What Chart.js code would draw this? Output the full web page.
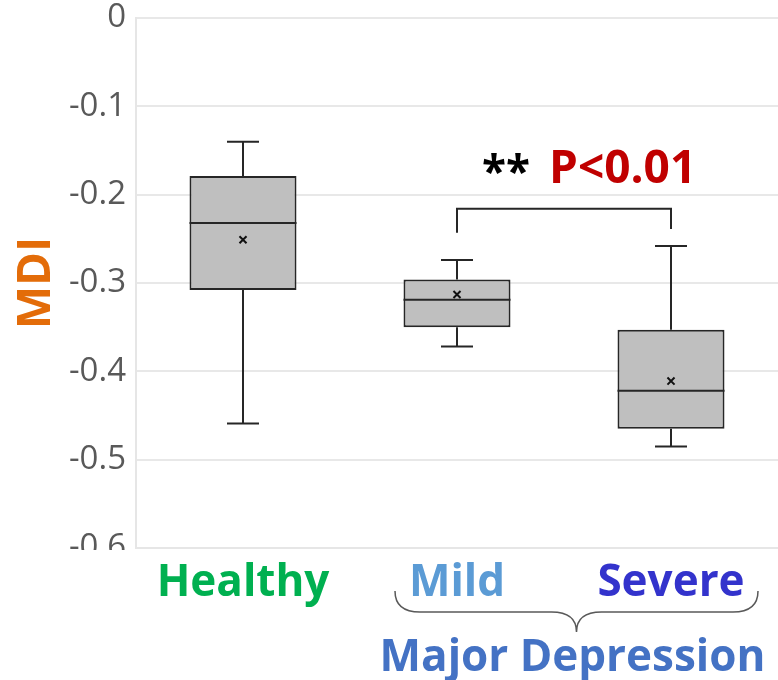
<!DOCTYPE html>
<html>
<head>
<meta charset="utf-8">
<script src="https://cdn.jsdelivr.net/npm/chart.js@4/dist/chart.umd.min.js"></script>
<style>
	body { margin: 0; background: #fff; }
	canvas { display: block; }
</style>
</head>
<body>
<canvas id="chart" width="778" height="680"></canvas>
<script>
// groups and their label colours
const categories = ["Healthy", "Mild", "Severe"];
const labelColors = ["#00B050", "#5B9BD5", "#3333CC"];

// box plot statistics
const whiskerMax = [-0.140, -0.274, -0.258];
const q3 = [-0.179, -0.296, -0.353];
const median = [-0.232, -0.319, -0.422];
const q1 = [-0.308, -0.350, -0.465];
const whiskerMin = [-0.459, -0.372, -0.485];
const means = [-0.251, -0.313, -0.411];

// y axis ticks
const yMin = -0.6;
const yMax = 0;
const yStep = 0.1;

// significance bracket between Mild and Severe
const bracketTop = -0.216;
const bracketEnds = [-0.243, -0.239];

const FONT = "'Open Sans', 'Noto Sans', sans-serif";
const INK = "#262626";

const boxPlugin = {
	id: "boxPlugin",
	afterDatasetsDraw(chart) {
		const c = chart.ctx;
		const y = chart.scales.y;
		const x = chart.scales.x;
		const bars = chart.getDatasetMeta(0).data;
		c.save();
		c.strokeStyle = INK;
		bars.forEach((bar, i) => {
			const cx = bar.x;
			const hw = bar.width / 2;
			const cap = 16;
			// median
			c.lineWidth = 2;
			c.beginPath();
			c.moveTo(cx - hw, y.getPixelForValue(median[i]));
			c.lineTo(cx + hw, y.getPixelForValue(median[i]));
			c.stroke();
			// whiskers
			c.lineWidth = 2;
			c.beginPath();
			c.moveTo(cx, y.getPixelForValue(q3[i]));
			c.lineTo(cx, y.getPixelForValue(whiskerMax[i]));
			c.moveTo(cx - cap, y.getPixelForValue(whiskerMax[i]));
			c.lineTo(cx + cap, y.getPixelForValue(whiskerMax[i]));
			c.moveTo(cx, y.getPixelForValue(q1[i]));
			c.lineTo(cx, y.getPixelForValue(whiskerMin[i]));
			c.moveTo(cx - cap, y.getPixelForValue(whiskerMin[i]));
			c.lineTo(cx + cap, y.getPixelForValue(whiskerMin[i]));
			c.stroke();
		});

		// bracket
		const xa = x.getPixelForValue(1);
		const xb = x.getPixelForValue(2);
		const yt = y.getPixelForValue(bracketTop);
		c.lineWidth = 2;
		c.beginPath();
		c.moveTo(xa, y.getPixelForValue(bracketEnds[0]));
		c.lineTo(xa, yt);
		c.lineTo(xb, yt);
		c.lineTo(xb, y.getPixelForValue(bracketEnds[1]));
		c.stroke();

		// significance text
		c.textBaseline = "alphabetic";
		c.textAlign = "left";
		c.font = "bold 46px " + FONT;
		c.fillStyle = "#C00000";
		c.fillText("P<0.01", 549, yt - 26);
		c.fillStyle = "#000";
		c.font = "bold 44px " + FONT;
		c.fillText("**", 482, yt - 22);
		c.restore();
	},
	afterDraw(chart) {
		const c = chart.ctx;
		const x = chart.scales.x;
		const area = chart.chartArea;
		c.save();
		// hide lower half of the -0.6 label, as in the cropped figure
		c.fillStyle = "#fff";
		c.fillRect(0, area.bottom + 2, area.left - 2, 14);

		// curly brace under Mild and Severe
		const l = x.getPixelForValue(1) - 62;
		const r = x.getPixelForValue(2) + 87;
		const m = (l + r) / 2;
		const top = area.bottom + 43;
		const mid = top + 21;
		const tip = top + 41;
		c.strokeStyle = "#595959";
		c.lineWidth = 1.5;
		c.beginPath();
		c.moveTo(l, top);
		c.quadraticCurveTo(l, mid, l + 25, mid);
		c.lineTo(m - 25, mid);
		c.quadraticCurveTo(m, mid, m, tip);
		c.quadraticCurveTo(m, mid, m + 25, mid);
		c.lineTo(r - 25, mid);
		c.quadraticCurveTo(r, mid, r, top);
		c.stroke();

		c.fillStyle = "#4472C4";
		c.font = "bold 44px " + FONT;
		c.textAlign = "center";
		c.textBaseline = "alphabetic";
		c.fillText("Major Depression", m - 4, 671);
		c.restore();
	}
};

let ctx = document.getElementById("chart").getContext("2d");
window.chart = new Chart(ctx, {
	type: "bar",
	data: {
		labels: categories,
		datasets: [
			{
				type: "bar",
				label: "box",
				data: categories.map((_, i) => [q1[i], q3[i]]),
				backgroundColor: "#BFBFBF",
				borderColor: INK,
				borderWidth: 2,
				borderSkipped: false,
				barPercentage: 0.5,
				categoryPercentage: 1,
				order: 2
			},
			{
				type: "scatter",
				label: "mean",
				data: categories.map((cat, i) => ({ x: cat, y: means[i] })),
				pointStyle: "crossRot",
				pointRadius: 5,
				borderColor: "#111",
				borderWidth: 2,
				order: 1
			}
		]
	},
	options: {
		responsive: false,
		animation: false,
		layout: { autoPadding: false, padding: { top: 18, right: 0, left: 0, bottom: 0 } },
		plugins: {
			legend: { display: false },
			tooltip: { enabled: false }
		},
		scales: {
			x: {
				type: "category",
				offset: true,
				grid: { display: false, drawTicks: false },
				border: { display: true, color: "#E6E6E6", width: 2 },
				ticks: {
					padding: 9,
					color: labelColors,
					font: { family: FONT, size: 44, weight: "bold" }
				},
				afterFit(scale) {
					scale.height = 132;
					scale.paddingLeft = 0;
					scale.paddingRight = 0;
				}
			},
			y: {
				min: yMin,
				max: yMax,
				grid: { color: "#E8E8E8", lineWidth: 2, drawTicks: false },
				border: { display: true, color: "#E6E6E6", width: 2 },
				ticks: {
					stepSize: yStep,
					padding: 10,
					color: "#595959",
					font: { family: FONT, size: 33, lineHeight: 1.1 },
					callback: v => Math.abs(v) < 1e-9 ? "0" : v.toFixed(1)
				},
				title: {
					display: true,
					text: "MDI",
					color: "#E36C09",
					font: { family: FONT, size: 46, weight: "bold" },
					padding: { top: 9, bottom: 0 }
				},
				afterFit(scale) {
					scale.width = 136;
					scale.paddingTop = 0;
					scale.paddingBottom = 0;
				}
			}
		}
	},
	plugins: [boxPlugin]
});
</script>
</body>
</html>
